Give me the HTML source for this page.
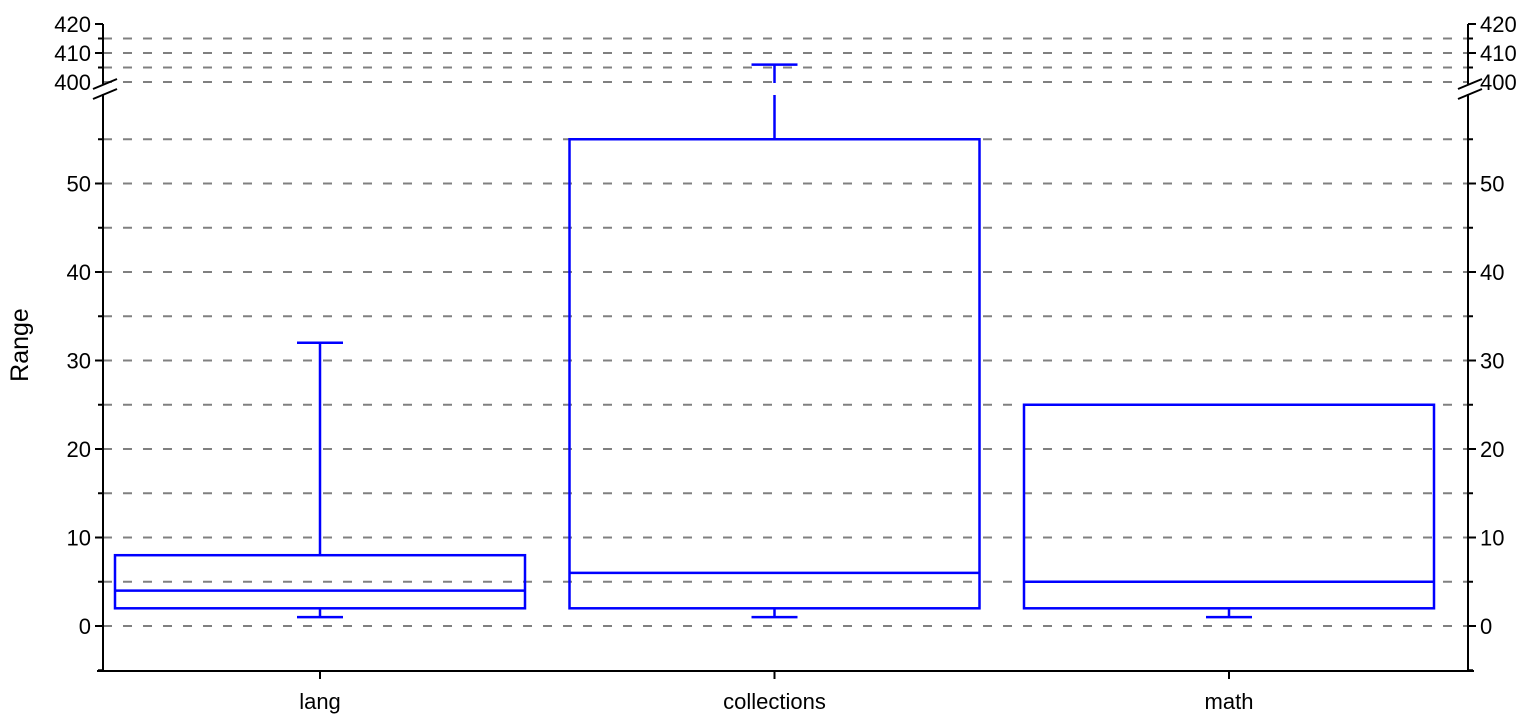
<!DOCTYPE html>
<html><head><meta charset="utf-8"><style>body{margin:0;background:#fff}svg{display:block;font-family:"Liberation Sans",Arial,sans-serif}</style></head>
<body>
<svg id="c" width="1530" height="720" xmlns="http://www.w3.org/2000/svg"></svg>
<script>
const categories=["lang","collections","math"];
const mins=[1,1,1];
const q1s=[2,2,2];
const medians=[4,6,5];
const q3s=[8,55,25];
const maxs=[32,406,25];
const lowerTicks=[0,10,20,30,40,50];
const upperTicks=[400,410,420];
const svg=document.getElementById('c');
const NS='http://www.w3.org/2000/svg';
function mk(t,a,p){const e=document.createElementNS(NS,t);for(const k in a)e.setAttribute(k,a[k]);(p||svg).appendChild(e);return e;}
const L=103,R=1468,BOT=671;
function yL(v){return 626-v*8.85;}
function yU(v){return 82-(v-400)*2.9;}
function y(v){return v>=400?yU(v):yL(v);}
function xC(i){return 320+i*454.5;}
const BW=410;
for(let v=0;v<=55;v+=5){const g=mk('line',{x1:L,x2:R,y1:yL(v),y2:yL(v),stroke:'#808080','stroke-width':2,'stroke-dasharray':'9,11'});}
for(let v=400;v<=415;v+=5){const g=mk('line',{x1:L,x2:R,y1:yU(v),y2:yU(v),stroke:'#808080','stroke-width':2,'stroke-dasharray':'9,11'});}
[[L,-1],[R,1]].forEach(([x,d])=>{
 const a1=mk('line',{x1:x,x2:x,y1:BOT,y2:94,stroke:'#000','stroke-width':2});
 const a2=mk('line',{x1:x,x2:x,y1:84,y2:24,stroke:'#000','stroke-width':2});
 const b1=mk('line',{x1:x-10,x2:x+14,y1:89,y2:79,stroke:'#000','stroke-width':2});
 const b2=mk('line',{x1:x-10,x2:x+14,y1:99,y2:89,stroke:'#000','stroke-width':2});
 for(let v=-5;v<=55;v+=5){const maj=v%10===0;const t=mk('line',{x1:x,x2:x+d*(maj?8:5),y1:yL(v),y2:yL(v),stroke:'#000','stroke-width':2});}
 for(let v=405;v<=420;v+=5){const maj=v%10===0;const t=mk('line',{x1:x,x2:x+d*(maj?8:5),y1:yU(v),y2:yU(v),stroke:'#000','stroke-width':2});}
 lowerTicks.concat(upperTicks).forEach(v=>{const t=mk('text',{x:x+d*12,y:y(v)+8,'font-size':22,'text-anchor':d<0?'end':'start',fill:'#000'});t.textContent=v;});
});
const xa=mk('line',{x1:97,x2:1474,y1:BOT,y2:BOT,stroke:'#000','stroke-width':2});
const yt=mk('text',{x:28,y:345,'font-size':25,'text-anchor':'middle',transform:'rotate(-90 28 345)'});yt.textContent='Range';
categories.forEach((c,i)=>{
 const cx=xC(i);
 const tk=mk('line',{x1:cx,x2:cx,y1:BOT,y2:BOT+8,stroke:'#000','stroke-width':2});
 const lb=mk('text',{x:cx,y:709,'font-size':22,'text-anchor':'middle'});lb.textContent=c;
 const g=mk('g',{stroke:'#0000ff','stroke-width':2.5,fill:'none'});
 mk('rect',{x:cx-BW/2,y:y(q3s[i]),width:BW,height:y(q1s[i])-y(q3s[i])},g);
 mk('line',{x1:cx-BW/2,x2:cx+BW/2,y1:y(medians[i]),y2:y(medians[i])},g);
 mk('line',{x1:cx,x2:cx,y1:y(q1s[i]),y2:y(mins[i])},g);
 mk('line',{x1:cx-23,x2:cx+23,y1:y(mins[i]),y2:y(mins[i])},g);
 if(maxs[i]>q3s[i]){
  if(maxs[i]>=400){mk('line',{x1:cx,x2:cx,y1:y(q3s[i]),y2:95},g);mk('line',{x1:cx,x2:cx,y1:83,y2:y(maxs[i])},g);}
  else mk('line',{x1:cx,x2:cx,y1:y(q3s[i]),y2:y(maxs[i])},g);
  mk('line',{x1:cx-23,x2:cx+23,y1:y(maxs[i]),y2:y(maxs[i])},g);
 }
});
</script>
</body></html>
